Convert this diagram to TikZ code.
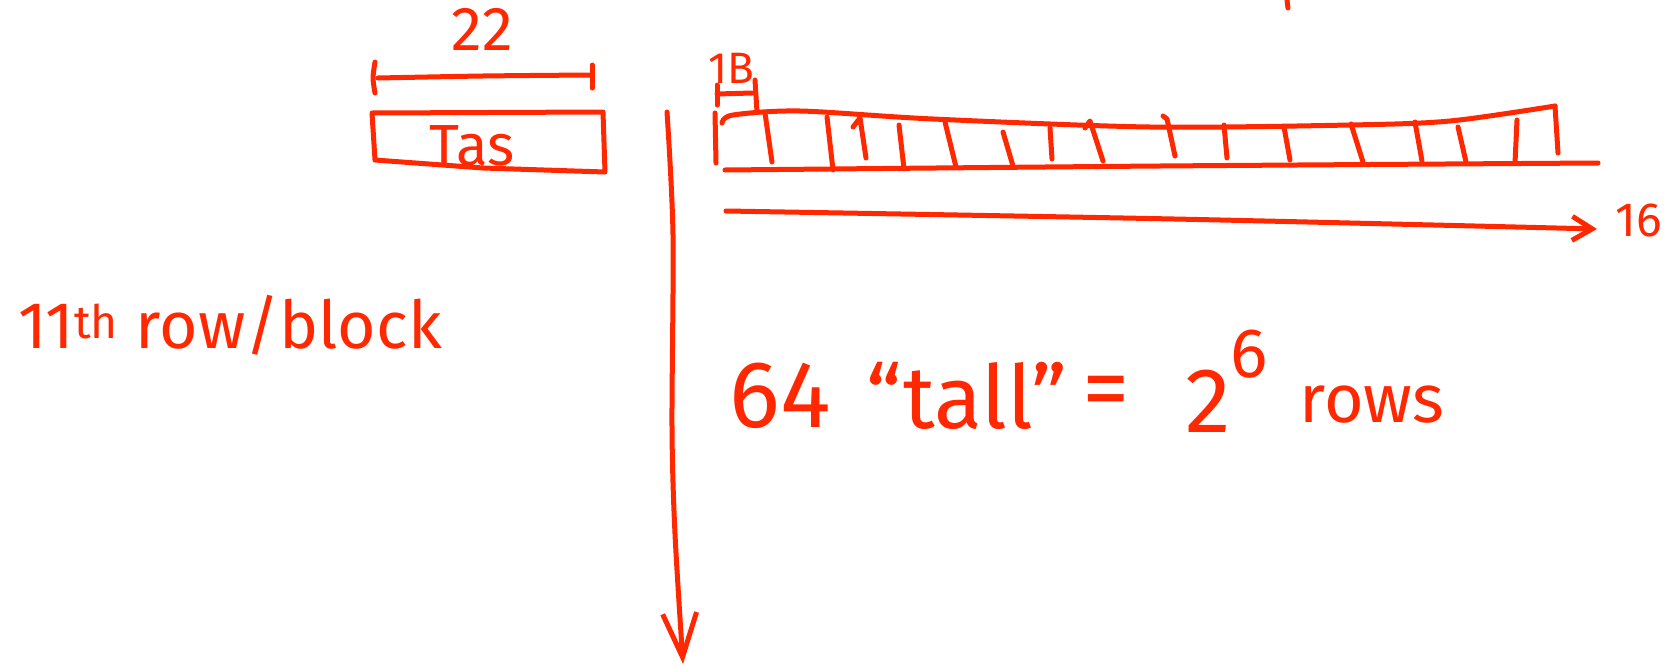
\documentclass[tikz,border=0pt]{standalone}
\usepackage{fontspec}
\setmainfont{Fira Sans}
\usetikzlibrary{arrows.meta}
\definecolor{ink}{RGB}{255,40,0}
\tikzset{
  pen/.style={draw=ink, line width=5pt, line cap=round, line join=round},
  hand/.style={text=ink, inner sep=0pt, outer sep=0pt},
  fs/.style={font=\fontsize{#1}{#1}\selectfont},
}
\begin{document}
\begin{tikzpicture}[x=1pt,y=-1pt]
\useasboundingbox (0,0) rectangle (1674,667);

% ---- Tas box with width dimension ----
\draw[pen] plot[smooth] coordinates {(375,62) (373,78) (375,93)};
\draw[pen] plot[smooth] coordinates {(378,78) (483,76) (590,75)};
\draw[pen] (592,65) -- (592,88);
\node[hand, fs=62, anchor=base] (w22) at (482,50) {22};
\draw[pen] (372,113) -- (603,112) -- (605,172) -- (483,168) -- (375,160) -- cycle;
\node[hand, fs=58, anchor=base] (tas) at (472,165) {Tas};

% ---- vertical arrow ----
\coordinate (vs) at (667,112);
\coordinate (ve) at (683,664);
\draw[pen, -{Straight Barb[length=44pt, width=34pt]}]
  plot[smooth] coordinates {(vs) (673,235) (672,427) (675,534) (ve)};

% ---- one row of 16 bytes ----
\draw[pen] (717,85) -- (717,105);
\draw[pen] (717,94) -- (752,93);
\draw[pen] (755,80) -- (757,112);
\node[hand, fs=44, anchor=base] (b1) at (731,83) {1B};

\draw[pen] (715,113) -- (716,163);
\draw[pen] plot[smooth] coordinates {(722,123) (733,115) (800,111) (933,119) (1150,127) (1350,125) (1450,121) (1555,106)};
\draw[pen] (1555,106) -- (1558,153);
\draw[pen] plot[smooth] coordinates {(725,170) (1160,166) (1598,163)};
\foreach \a/\b/\c/\d in {765/113/772/162, 827/117/833/170, 899/125/904/169,
  945/122/956/167, 1003/132/1013/166, 1050/128/1052/159, 1224/125/1227/158,
  1284/127/1290/160, 1351/124/1363/162, 1415/122/1422/161, 1458/127/1466/162,
  1517/120/1515/163}
  \draw[pen] (\a,\b) -- (\c,\d);
\draw[pen] (853,127) -- (860,118) -- (866,158);
\draw[pen] (1085,128) -- (1090,121) -- (1103,161);
\draw[pen] (1163,116) -- (1167,119) -- (1175,156);

% ---- horizontal arrow ----
\coordinate (hs) at (726,211);
\coordinate (he) at (1597,229);
\draw[pen, -{Straight Barb[length=20pt, width=24pt]}]
  plot[smooth] coordinates {(hs) (1174,219) (he)};
\node[hand, fs=48, anchor=base] (n16) at (1639,236) {16};

% ---- small mark at top ----
\draw[pen] (1287,0) -- (1288,8);

% ---- labels ----
\node[hand, fs=66, anchor=base west] (blk) at (18,348) {11\textsuperscript{th} row/block};
\node[hand, fs=95, anchor=base] (n64) at (780,427) {64};
\node[hand, fs=88, anchor=base] (tall) at (967,428) {``tall''};
\node[hand, fs=95] (eq) at (1106,398) {=};
\node[hand, fs=92, anchor=base west] (pow) at (1185,432) {2\raisebox{55pt}{\fontsize{70}{70}\selectfont 6}};
\node[hand, fs=68, anchor=base] (rows) at (1372,422) {rows};
\end{tikzpicture}
\end{document}
